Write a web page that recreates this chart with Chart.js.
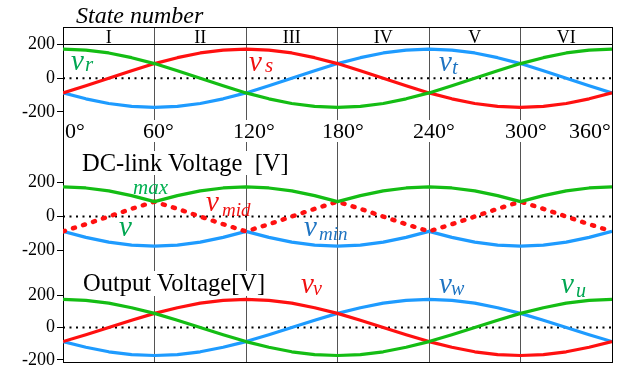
<!DOCTYPE html>
<html><head><meta charset="utf-8">
<script src="https://cdn.jsdelivr.net/npm/chart.js@4.4.1/dist/chart.umd.min.js"></script>
<style>
html,body{margin:0;padding:0;background:#fff;}
#wrap{position:relative;width:618px;height:369px;overflow:hidden;background:#fff;}
canvas{position:absolute;left:0;top:0;}
.t{position:absolute;font-family:'Liberation Serif','Times New Roman',serif;line-height:1;white-space:pre;color:#000;}
.i{font-style:italic;}
.bg{background:#fff;}
.r{width:91.5px;text-align:center;font-size:18px;top:28px;}
.d{font-size:22px;top:119.6px;background:#fff;}
</style></head><body>
<div id="wrap"><canvas id="c" width="618" height="369"></canvas>
<div class="t i" style="left:76px;top:3.4px;font-size:24px;">State number</div>
<div class="t r" style="left:63px;">I</div>
<div class="t r" style="left:154.5px;">II</div>
<div class="t r" style="left:246px;">III</div>
<div class="t r" style="left:337.5px;">IV</div>
<div class="t r" style="left:429px;">V</div>
<div class="t r" style="left:520.5px;">VI</div>
<div class="t d" style="left:65px;">0°</div>
<div class="t d" style="left:143px;">60°</div>
<div class="t d" style="left:233px;">120°</div>
<div class="t d" style="left:322px;">180°</div>
<div class="t d" style="left:413px;">240°</div>
<div class="t d" style="left:505px;">300°</div>
<div class="t d" style="left:569px;">360°</div>
<div class="t bg" style="left:82px;top:150.5px;font-size:24.5px;">DC-link Voltage  [V]</div>
<div class="t bg" style="left:83px;top:271.2px;font-size:24.5px;">Output Voltage[V]</div>

<div class="t i" style="left:71px;top:45.7px;font-size:29px;color:#00a651;">v</div>
<div class="t i" style="left:85px;top:54.4px;font-size:21px;color:#00a651;">r</div>
<div class="t i" style="left:249px;top:47.2px;font-size:29px;color:#f01010;">v</div>
<div class="t i" style="left:265px;top:55.4px;font-size:21px;color:#f01010;">s</div>
<div class="t i" style="left:439px;top:47.4px;font-size:29px;color:#1f74c2;">v</div>
<div class="t i" style="left:452px;top:57.4px;font-size:21px;color:#1f74c2;">t</div>

<div class="t i" style="left:133px;top:177.4px;font-size:21px;color:#00b050;">max</div>
<div class="t i" style="left:119px;top:212.2px;font-size:29px;color:#00a651;">v</div>
<div class="t i" style="left:206px;top:187.4px;font-size:29px;color:#f01010;">v</div>
<div class="t i" style="left:222px;top:200.1px;font-size:19px;color:#f01010;">mid</div>
<div class="t i" style="left:304px;top:212.2px;font-size:29px;color:#1f74c2;">v</div>
<div class="t i" style="left:319px;top:224.1px;font-size:19px;color:#1f74c2;">min</div>

<div class="t i" style="left:301px;top:269px;font-size:29px;color:#f01010;">v</div>
<div class="t i" style="left:313px;top:278.3px;font-size:20px;color:#f01010;">v</div>
<div class="t i" style="left:439px;top:268.7px;font-size:29px;color:#1f74c2;">v</div>
<div class="t i" style="left:451px;top:278.3px;font-size:20px;color:#1f74c2;">w</div>
<div class="t i" style="left:561px;top:268.7px;font-size:29px;color:#00a651;">v</div>
<div class="t i" style="left:576px;top:279.9px;font-size:20px;color:#00a651;">u</div>
</div>
<script>
// electrical angle (degrees)
const angles = [0,15,30,45,60,75,90,105,120,135,150,165,180,195,210,225,240,255,270,285,300,315,330,345,360];
// input phase voltages [V] (top panel)
const vR = [173,167,150,122,87,45,0,-45,-87,-122,-150,-167,-173,-167,-150,-122,-87,-45,0,45,87,122,150,167,173];
const vS = [-87,-45,0,45,87,122,150,167,173,167,150,122,87,45,0,-45,-87,-122,-150,-167,-173,-167,-150,-122,-87];
const vT = [-87,-122,-150,-167,-173,-167,-150,-122,-87,-45,0,45,87,122,150,167,173,167,150,122,87,45,0,-45,-87];
// DC-link voltages [V] (middle panel)
const vMax = [173,167,150,122,87,122,150,167,173,167,150,122,87,122,150,167,173,167,150,122,87,122,150,167,173];
const vMid = [-87,-45,0,45,87,45,0,-45,-87,-45,0,45,87,45,0,-45,-87,-45,0,45,87,45,0,-45,-87];
const vMin = [-87,-122,-150,-167,-173,-167,-150,-122,-87,-122,-150,-167,-173,-167,-150,-122,-87,-122,-150,-167,-173,-167,-150,-122,-87];
// output voltages [V] (bottom panel)
const vU = [173,167,150,122,87,45,0,-45,-87,-122,-150,-167,-173,-167,-150,-122,-87,-45,0,45,87,122,150,167,173];
const vV = [-87,-45,0,45,87,122,150,167,173,167,150,122,87,45,0,-45,-87,-122,-150,-167,-173,-167,-150,-122,-87];
const vW = [-87,-122,-150,-167,-173,-167,-150,-122,-87,-45,0,45,87,122,150,167,173,167,150,122,87,45,0,-45,-87];
// zero reference line
const zeroX = [0, 360];
const zeroY = [0, 0];
// y tick values
const yTickValues = [-200, 0, 200];

const GREEN = '#14bd14', RED = '#ff1010', BLUE = '#1e9bff';
const pts = (xs, ys) => xs.map((x, i) => ({x, y: ys[i]}));
const curve = (data, color, axis, extra) => Object.assign({
  data: pts(angles, data), yAxisID: axis, borderColor: color, borderWidth: 3.2,
  pointRadius: 0, tension: 0, fill: false, borderJoinStyle: 'round'
}, extra || {});
const zero = (axis) => ({
  data: pts(zeroX, zeroY), yAxisID: axis, borderColor: '#000', borderWidth: 2,
  borderDash: [2, 4.5], pointRadius: 0, tension: 0, fill: false
});

const tickFont = {family: "'Liberation Serif', serif", size: 18};
function yAxis(min, max, weight, header) {
  return {
    type: 'linear', position: 'left', stack: 'panels', stackWeight: weight,
    min, max,
    afterBuildTicks: s => {
      const v = yTickValues.slice();
      if (header) v.push(max);
      s.ticks = v.map(value => ({value}));
    },
    afterFit: s => { s.width = 63; s.paddingTop = 0; s.paddingBottom = 0; },
    ticks: {
      font: tickFont, color: '#000', padding: 2, autoSkip: false,
      callback: v => (v === max ? '' : String(v))
    },
    grid: {
      drawOnChartArea: !!header,
      color: c => (header && (c.tick.value === 200 || c.tick.value === max)) ? '#000' : 'rgba(0,0,0,0)',
      tickColor: c => (c.tick && c.tick.value === max) ? 'rgba(0,0,0,0)' : '#000',
      tickLength: 6, lineWidth: 1, drawTicks: true
    },
    border: {display: true, color: '#000', width: 1}
  };
}

new Chart(document.getElementById('c'), {
  type: 'line',
  data: {
    datasets: [
      curve(vR, GREEN, 'yTop'), curve(vS, RED, 'yTop'), curve(vT, BLUE, 'yTop'),
      curve(vMax, GREEN, 'yMid'),
      curve(vMid, RED, 'yMid', {borderWidth: 4.5, borderDash: [2, 8.5], borderCapStyle: 'round'}),
      curve(vMin, BLUE, 'yMid'),
      curve(vU, GREEN, 'yBot'), curve(vV, RED, 'yBot'), curve(vW, BLUE, 'yBot'),
      zero('yTop'), zero('yMid'), zero('yBot')
    ]
  },
  options: {
    responsive: false, animation: false, events: [],
    layout: {padding: {top: 27, right: 6, bottom: 7, left: 0}},
    plugins: {legend: {display: false}, tooltip: {enabled: false}, title: {display: false}},
    scales: {
      x: {
        type: 'linear', position: 'bottom', min: 0, max: 360,
        afterBuildTicks: s => { s.ticks = [0,60,120,180,240,300,360].map(value => ({value})); },
        afterFit: s => { s.height = 0; s.paddingLeft = 0; s.paddingRight = 0; },
        ticks: {display: false},
        grid: {drawTicks: false, color: c => (c.tick && c.tick.value === 360) ? '#000' : '#555', lineWidth: 1},
        border: {display: true, color: '#000', width: 1}
      },
      yBot: yAxis(-213, 404, 100, false),
      yMid: yAxis(-266, 506, 132, false),
      yTop: yAxis(-307, 304, 103, true)
    }
  }
});
</script>
</body></html>
